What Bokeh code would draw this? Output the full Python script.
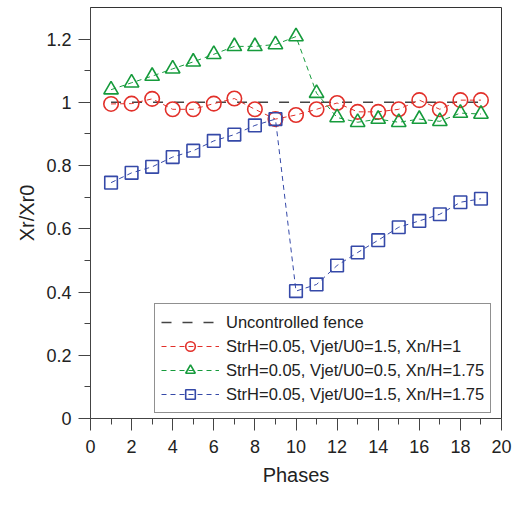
from bokeh.plotting import figure
from bokeh.models import FixedTicker, Legend, LegendItem, Range1d
from bokeh.embed import file_html
from bokeh.resources import INLINE

# ---- data ----
phases = list(range(1, 20))
fence_x = [1, 19]
fence_y = [1.0, 1.0]
red_y = [0.995, 0.996, 1.011, 0.978, 0.978, 0.996, 1.012, 0.978, 0.947, 0.960,
         0.978, 0.998, 0.970, 0.970, 0.978, 1.007, 0.978, 1.007, 1.007]
green_y = [1.040, 1.062, 1.083, 1.106, 1.128, 1.152, 1.177, 1.177, 1.183, 1.208,
           1.029, 0.952, 0.937, 0.947, 0.937, 0.947, 0.940, 0.966, 0.963]
blue_y = [0.746, 0.777, 0.796, 0.827, 0.847, 0.878, 0.898, 0.927, 0.947, 0.403,
          0.424, 0.484, 0.525, 0.564, 0.605, 0.625, 0.646, 0.684, 0.695]
x_ticks = [0, 2, 4, 6, 8, 10, 12, 14, 16, 18, 20]
x_minor = [1, 3, 5, 7, 9, 11, 13, 15, 17, 19]
y_ticks = [0, 0.2, 0.4, 0.6, 0.8, 1.0, 1.2]
y_tick_labels = ["0", "0.2", "0.4", "0.6", "0.8", "1", "1.2"]
y_minor = [0.1, 0.3, 0.5, 0.7, 0.9, 1.1]
labels = ["Uncontrolled fence",
          "StrH=0.05, Vjet/U0=1.5, Xn/H=1",
          "StrH=0.05, Vjet/U0=0.5, Xn/H=1.75",
          "StrH=0.05, Vjet/U0=1.5, Xn/H=1.75"]

RED = "#e2302a"
GREEN = "#169b3c"
BLUE = "#3549a8"
FONT = "Liberation Sans"

p = figure(width=512, height=489, output_backend="svg", toolbar_location=None,
           x_range=Range1d(0, 20), y_range=Range1d(0, 1.3),
           min_border_left=90, min_border_right=11, min_border_top=7, min_border_bottom=71)
p.grid.visible = False
p.outline_line_color = "#333333"
p.outline_line_width = 1
p.background_fill_color = "white"
p.border_fill_color = "white"

fence = p.line(fence_x, fence_y, line_color="#444444", line_width=1.5, line_dash="10 11")

r_line = p.line(phases, red_y, line_color=RED, line_width=1, line_dash="5 4")
r_sc = p.scatter(phases, red_y, marker="circle", size=14.5, fill_color=None,
                 line_color=RED, line_width=1.6)
g_line = p.line(phases, green_y, line_color=GREEN, line_width=1, line_dash="5 4")
g_sc = p.scatter(phases, green_y, marker="triangle", size=14.5, fill_color=None,
                 line_color=GREEN, line_width=1.6)
b_line = p.line(phases, blue_y, line_color=BLUE, line_width=1, line_dash="5 4")
b_sc = p.scatter(phases, blue_y, marker="square", size=12.6, fill_color=None,
                 line_color=BLUE, line_width=1.6)

# axes
p.xaxis.ticker = FixedTicker(ticks=x_ticks, minor_ticks=x_minor)
p.yaxis.ticker = FixedTicker(ticks=y_ticks, minor_ticks=y_minor)
p.yaxis.major_label_overrides = {v: s for v, s in zip(y_ticks, y_tick_labels)}
for ax in (p.xaxis[0], p.yaxis[0]):
    ax.major_tick_in = 0
    ax.major_tick_out = 12
    ax.minor_tick_in = 0
    ax.minor_tick_out = 6
    ax.axis_line_color = "#444444"
    ax.major_tick_line_color = "#444444"
    ax.minor_tick_line_color = "#444444"
    ax.major_label_text_font = FONT
    ax.major_label_text_font_size = "18px"
    ax.major_label_text_color = "#222222"
    ax.axis_label_text_font = FONT
    ax.axis_label_text_font_size = "20px"
    ax.axis_label_text_font_style = "normal"
    ax.axis_label_text_color = "#222222"
p.xaxis.axis_label = "Phases"
p.yaxis.axis_label = "Xr/Xr0"
p.xaxis.major_label_standoff = 9
p.yaxis.major_label_standoff = 7
p.xaxis.axis_label_standoff = 8
p.yaxis.axis_label_standoff = 5

legend = Legend(items=[
    LegendItem(label=labels[0], renderers=[fence]),
    LegendItem(label=labels[1], renderers=[r_line, r_sc]),
    LegendItem(label=labels[2], renderers=[g_line, g_sc]),
    LegendItem(label=labels[3], renderers=[b_line, b_sc]),
], location=(64, 5))
legend.label_text_font = FONT
legend.label_text_font_size = "16.5px"
legend.label_text_color = "#222222"
legend.glyph_width = 58
legend.glyph_height = 24
legend.label_height = 24
legend.spacing = 0
legend.padding = 6
legend.margin = 0
legend.label_standoff = 7
legend.border_line_color = "#222222"
legend.border_line_width = 1
legend.background_fill_alpha = 1
p.add_layout(legend, "center")

open("out.html", "w").write(file_html(p, INLINE))
